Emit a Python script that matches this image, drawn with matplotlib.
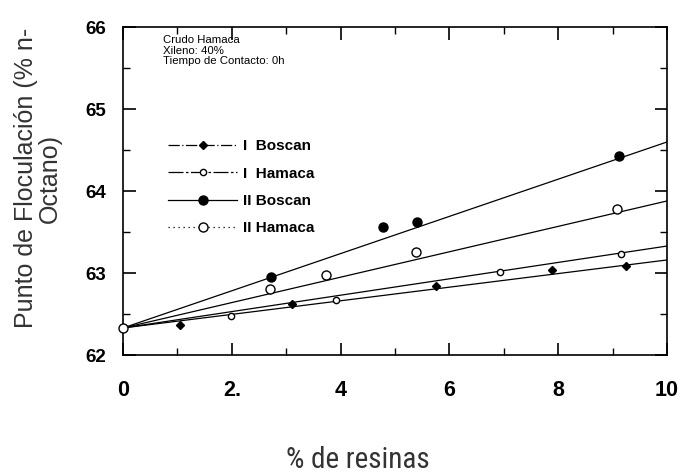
import numpy as np
import matplotlib.pyplot as plt
from matplotlib.ticker import MultipleLocator

# data
x0, y0 = 0.0, 62.33  # common starting point

ib_x = [1.05, 3.1, 5.75, 7.88, 9.25]
ib_y = [62.37, 62.62, 62.84, 63.04, 63.09]
ih_x = [1.98, 3.92, 6.93, 9.15]
ih_y = [62.48, 62.67, 63.01, 63.23]
iib_x = [2.72, 4.78, 5.4, 9.12]
iib_y = [62.95, 63.56, 63.62, 64.43]
iih_x = [2.7, 3.73, 5.39, 9.08]
iih_y = [62.8, 62.98, 63.26, 63.78]

# slopes of the trend lines drawn through the start point
slopes = [0.083, 0.100, 0.227, 0.155]
labels = ["I  Boscan", "I  Hamaca", "II Boscan", "II Hamaca"]
tick_labels = ["0", "2.", "4", "6", "8", "10"]

sans = ['Liberation Sans', 'DejaVu Sans']
narrow = ['Roboto Condensed', 'Liberation Sans Narrow', 'Liberation Sans', 'DejaVu Sans']

fig = plt.figure(figsize=(6.82, 4.75), dpi=100)
ax = fig.add_axes([0.1804, 0.2526, 0.7976, 0.690])

xs = np.array([0, 10])
styles = [(0, (9, 2, 1, 2)), (0, (12, 2, 2, 2)), '-', (0, (1, 3))]
series = [(ib_x, ib_y, 'D', 'black', 4), (ih_x, ih_y, 'o', 'white', 4.5),
          (iib_x, iib_y, 'o', 'black', 6.5), (iih_x, iih_y, 'o', 'white', 6.5)]

for (sx, sy, mk, fc, ms), slope, ls, lab in zip(series, slopes, styles, labels):
    ax.plot(xs, y0 + slope * xs, color='black', lw=0.9, ls='-', zorder=2)
    ax.plot(sx, sy, ls='none', marker=mk, mfc=fc, mec='black', ms=ms, mew=1, zorder=3)
    # legend handle
    ax.plot([], [], color='black', lw=0.9, ls=ls, marker=mk, mfc=fc, mec='black', ms=ms, label=lab)

ax.plot([x0], [y0], ls='none', marker='o', mfc='white', mec='black', ms=6.5, zorder=4, clip_on=False)

ax.set_xlim(0, 10)
ax.set_ylim(62, 66)
ax.xaxis.set_minor_locator(MultipleLocator(1))
ax.yaxis.set_major_locator(MultipleLocator(1))
ax.yaxis.set_minor_locator(MultipleLocator(0.5))
ax.set_xticks(np.arange(0, 11, 2))
ax.set_xticklabels(tick_labels)
ax.tick_params(which='both', direction='in', top=True, right=True)
ax.tick_params(which='major', length=9, width=1.2)
ax.tick_params(which='minor', length=5, width=1)
ax.tick_params(axis='x', pad=18, labelsize=15.5)
ax.tick_params(axis='y', pad=12, labelsize=13.5)
for t in ax.get_xticklabels() + ax.get_yticklabels():
    t.set_fontweight('bold')
    t.set_fontfamily(sans)
for s in ax.spines.values():
    s.set_linewidth(1.2)

ax.text(0.0735, 0.976, "Crudo Hamaca\nXileno: 40%\nTiempo de Contacto: 0h",
        transform=ax.transAxes, fontsize=8.2, va='top', ha='left', linespacing=1.05,
        family=sans)

leg = ax.legend(loc='upper left', bbox_to_anchor=(0.058, 0.70), frameon=False,
                handlelength=4.5, handletextpad=0.4, labelspacing=0.87,
                prop={'family': sans, 'weight': 'bold', 'size': 11})

fig.text(0.0557, 0.625, "Punto de Floculación (% n-\nOctano)", rotation=90, ha='center', va='center',
         multialignment='center', fontsize=18, color='#333333', family=sans, linespacing=0.95)
fig.text(0.525, 0.0147, "% de resinas", ha='center', va='baseline', fontsize=21, color='#333333',
         family=narrow, fontstretch='condensed')

fig.savefig("out.png", dpi=100)
